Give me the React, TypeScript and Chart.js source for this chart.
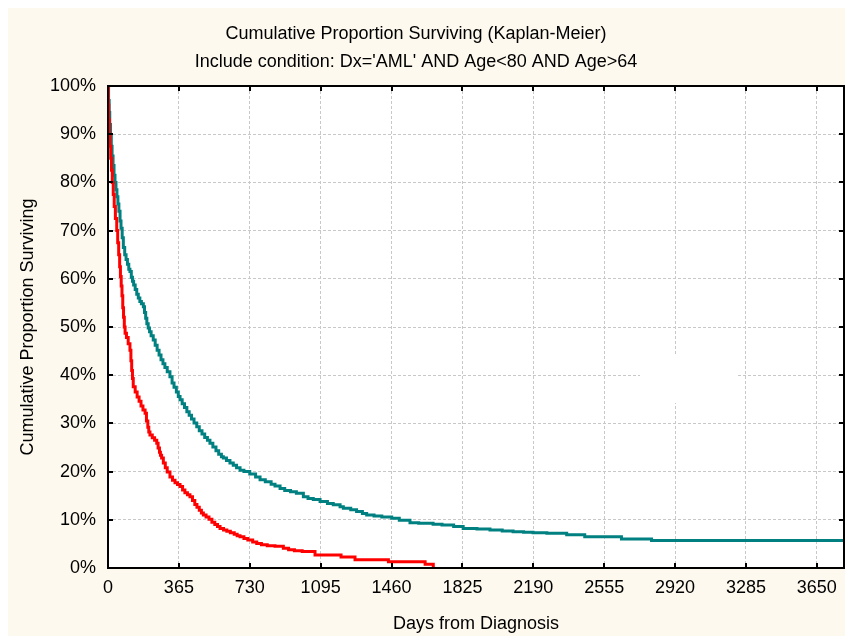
import React, { useEffect, useRef } from "react";
import { Chart, registerables } from "chart.js";

Chart.register(...registerables);

// ---- Text ----
const titleLines = [
  "Cumulative Proportion Surviving (Kaplan-Meier)",
  "Include condition: Dx='AML' AND Age<80 AND Age>64",
];
const xAxisTitle = "Days from Diagnosis";
const yAxisTitle = "Cumulative Proportion Surviving";

// ---- Ticks ----
const xTickValues = [0, 365, 730, 1095, 1460, 1825, 2190, 2555, 2920, 3285, 3650];
const yTickValues = [0, 10, 20, 30, 40, 50, 60, 70, 80, 90, 100];
const xMin = 0;
const xMax = 3790;

// ---- Series: teal group (days, % surviving) ----
const tealDays = [
  0, 3, 6, 9, 13, 17, 21, 26, 31, 36, 41, 46, 51, 56, 62, 67, 73, 79, 86, 93, 100, 107, 113,
  120, 126, 132, 140, 148, 156, 164, 172, 182, 188, 194, 200, 207, 214, 222, 233, 243, 253,
  263, 273, 283, 293, 305, 319, 330, 340, 352, 362, 371, 382, 394, 406, 418, 430, 443, 457,
  470, 484, 498, 512, 525, 540, 556, 570, 584, 594, 610, 628, 645, 662, 680, 700, 730, 760,
  783, 810, 840, 860, 886, 910, 940, 970, 1006, 1030, 1057, 1092, 1130, 1160, 1195, 1212,
  1250, 1280, 1310, 1332, 1370, 1410, 1461, 1500, 1555, 1600, 1674, 1720, 1780, 1829, 1900,
  1967, 2030, 2086, 2140, 2189, 2260, 2362, 2455, 2644, 2799, 3785,
];
const tealPct = [
  100, 97, 94.5, 92, 89.5, 87.5, 85.5, 83.5, 81.5, 80, 78.5, 77, 75.5, 74, 72, 70.5, 68.5, 66.5,
  65, 64, 63, 62, 61.5, 60.3, 59.5, 58.7, 57.8, 56.8, 56, 55.3, 54.8, 54.2, 53, 51.8, 50.7, 49.8,
  49, 48.2, 47.3, 46.2, 45.2, 44.2, 43.2, 42.4, 41.6, 40.7, 39.7, 38.4, 37.5, 36.5, 35.6, 34.9,
  34.1, 33.3, 32.4, 31.7, 30.9, 30.1, 29.3, 28.5, 27.8, 27.1, 26.5, 25.9, 25.1, 24.3, 23.6,
  23.1, 22.8, 22.3, 21.8, 21.3, 20.8, 20.3, 20.0, 19.5, 18.9, 18.3, 17.9, 17.4, 17.0, 16.5,
  16.1, 15.8, 15.5, 14.8, 14.4, 14.2, 13.8, 13.4, 13.1, 12.7, 12.4, 12.1, 11.7, 11.3, 11.0,
  10.8, 10.6, 10.3, 9.9, 9.4, 9.3, 9.1, 8.9, 8.6, 8.2, 8.1, 7.9, 7.7, 7.5, 7.4, 7.3, 7.2, 6.9,
  6.5, 6.0, 5.7, 5.7,
];

// ---- Series: red group (days, % surviving) ----
const redDays = [
  0, 2, 4, 7, 10, 14, 18, 22, 27, 32, 38, 45, 50, 55, 60, 64, 68, 72, 76, 80, 84, 88, 95, 104,
  113, 118, 122, 126, 130, 140, 150, 160, 170, 180, 191, 198, 205, 210, 216, 228, 240, 251,
  258, 265, 270, 276, 285, 295, 305, 319, 332, 345, 358, 371, 384, 396, 409, 422, 435, 447,
  458, 470, 481, 491, 505, 520, 535, 550, 564, 577, 595, 612, 630, 650, 665, 680, 700, 720,
  745, 766, 790, 820, 860, 903, 930, 960, 1000, 1066, 1200, 1272, 1444, 1633, 1675,
];
const redPct = [
  100, 96, 93, 90, 87.5, 85, 82.5, 80, 77.5, 75, 72.5, 70, 67.5, 65, 62.5, 60.5, 58.5, 56.5, 54,
  52, 50, 48.7, 47.8, 46.5, 45.2, 43, 41, 39.3, 37.6, 36.5, 35.5, 34.6, 33.6, 32.8, 32.1, 30.5,
  29.2, 28.2, 27.6, 27, 26.5, 25.9, 24.9, 24.0, 23.4, 22.8, 21.8, 20.8, 19.9, 18.9, 18.2, 17.7,
  17.3, 16.9, 16.2, 15.6, 15.2, 14.8, 14, 13.2, 12.6, 12.0, 11.4, 11.0, 10.6, 10.1, 9.5, 9.0,
  8.6, 8.2, 7.9, 7.6, 7.3, 7.0, 6.7, 6.5, 6.1, 5.8, 5.4, 5.1, 4.8, 4.6, 4.5, 4.1, 3.8, 3.6,
  3.4, 2.7, 2.3, 1.7, 1.3, 0.8, 0,
];

const TEAL = "#008080";
const RED = "#ff0000";
const CREAM = "#fdf9ee";
const FONT = '"Liberation Sans", Arial, sans-serif';

const framePlugin = {
  id: "statFrame",
  beforeDraw(chart: any) {
    const { ctx, width, height, chartArea: a } = chart;
    ctx.save();
    ctx.fillStyle = CREAM;
    ctx.fillRect(0, 0, width, height);
    ctx.fillStyle = "#ffffff";
    ctx.fillRect(a.left, a.top, a.right - a.left, a.bottom - a.top);
    ctx.restore();
  },
  beforeDatasetsDraw(chart: any) {
    // empty (blank) legend box that hides the grid
    const { ctx, chartArea: a } = chart;
    ctx.save();
    ctx.fillStyle = "#ffffff";
    ctx.fillRect(a.left + 532, a.top + 269, 97, 48);
    ctx.restore();
  },
  afterDraw(chart: any) {
    const { ctx, chartArea: a, scales } = chart;
    ctx.save();
    ctx.strokeStyle = "#000000";
    ctx.lineWidth = 2;
    ctx.strokeRect(a.left, a.top, a.right - a.left, a.bottom - a.top);
    const tl = 5;
    ctx.beginPath();
    for (const v of xTickValues) {
      const px = Math.round(scales.x.getPixelForValue(v));
      ctx.moveTo(px, a.bottom);
      ctx.lineTo(px, a.bottom - tl);
      ctx.moveTo(px, a.top);
      ctx.lineTo(px, a.top + tl);
    }
    for (const v of yTickValues) {
      const py = Math.round(scales.y.getPixelForValue(v));
      ctx.moveTo(a.left, py);
      ctx.lineTo(a.left + tl, py);
      ctx.moveTo(a.right, py);
      ctx.lineTo(a.right - tl, py);
    }
    ctx.stroke();

    ctx.fillStyle = "#000000";
    ctx.font = `18px ${FONT}`;
    ctx.textAlign = "center";
    ctx.textBaseline = "alphabetic";
    ctx.fillText(titleLines[0], 408, 31);
    ctx.fillText(titleLines[1], 408, 59);
    ctx.restore();
  },
};

const zeroPad = (s: any) => {
  s.paddingLeft = 0;
  s.paddingRight = 0;
  s.paddingTop = 0;
  s.paddingBottom = 0;
};

if (typeof document !== "undefined") {
  document.documentElement.style.overflow = "hidden";
  document.body.style.overflow = "hidden";
}

export default function App() {
  const canvasRef = useRef<HTMLCanvasElement | null>(null);

  useEffect(() => {
    const canvas = canvasRef.current;
    if (!canvas) return;

    const chart = new Chart(canvas, {
      type: "line",
      data: {
        datasets: [
          {
            label: "Red group",
            data: redDays.map((d, i) => ({ x: d, y: redPct[i] })),
            borderColor: RED,
            backgroundColor: RED,
            borderWidth: 3,
            pointRadius: 0,
            stepped: "before",
            fill: false,
          },
          {
            label: "Teal group",
            data: tealDays.map((d, i) => ({ x: d, y: tealPct[i] })),
            borderColor: TEAL,
            backgroundColor: TEAL,
            borderWidth: 3,
            pointRadius: 0,
            stepped: "before",
            fill: false,
          },
        ],
      },
      options: {
        animation: false,
        responsive: false,
        maintainAspectRatio: false,
        layout: { padding: { top: 78, right: 1, left: 0, bottom: 0 } },
        plugins: {
          legend: { display: false },
          title: { display: false },
          tooltip: { enabled: false },
        },
        scales: {
          x: {
            type: "linear",
            min: xMin,
            max: xMax,
            afterBuildTicks: (s: any) => {
              s.ticks = xTickValues.map((v) => ({ value: v }));
            },
            afterFit: (s: any) => {
              s.height = 68;
              zeroPad(s);
            },
            grid: { color: "#c8c8c8", lineWidth: 1, drawTicks: false },
            border: { display: false, dash: [3, 2] },
            ticks: {
              color: "#000",
              font: { size: 18, family: FONT },
              padding: 9,
              maxRotation: 0,
              autoSkip: false,
              callback: (v: any) => String(v),
            },
            title: {
              display: true,
              text: xAxisTitle,
              color: "#000",
              font: { size: 18, family: FONT },
              padding: { top: 0, bottom: 1 },
            },
          },
          y: {
            type: "linear",
            min: 0,
            max: 100,
            afterBuildTicks: (s: any) => {
              s.ticks = yTickValues.map((v) => ({ value: v }));
            },
            afterFit: (s: any) => {
              s.width = 100;
              zeroPad(s);
            },
            grid: { color: "#c8c8c8", lineWidth: 1, drawTicks: false },
            border: { display: false, dash: [3, 2] },
            ticks: {
              color: "#000",
              font: { size: 18, family: FONT },
              padding: 12,
              callback: (v: any) => `${v}%`,
            },
            title: {
              display: true,
              text: yAxisTitle,
              color: "#000",
              font: { size: 18, family: FONT },
              padding: { top: 9, bottom: 0 },
            },
          },
        },
      },
      plugins: [framePlugin],
    } as any);

    return () => chart.destroy();
  }, []);

  return (
    <div style={{ position: "fixed", left: 8, top: 8, width: 837, height: 628 }}>
      <canvas ref={canvasRef} width={837} height={628} style={{ display: "block" }} />
    </div>
  );
}
